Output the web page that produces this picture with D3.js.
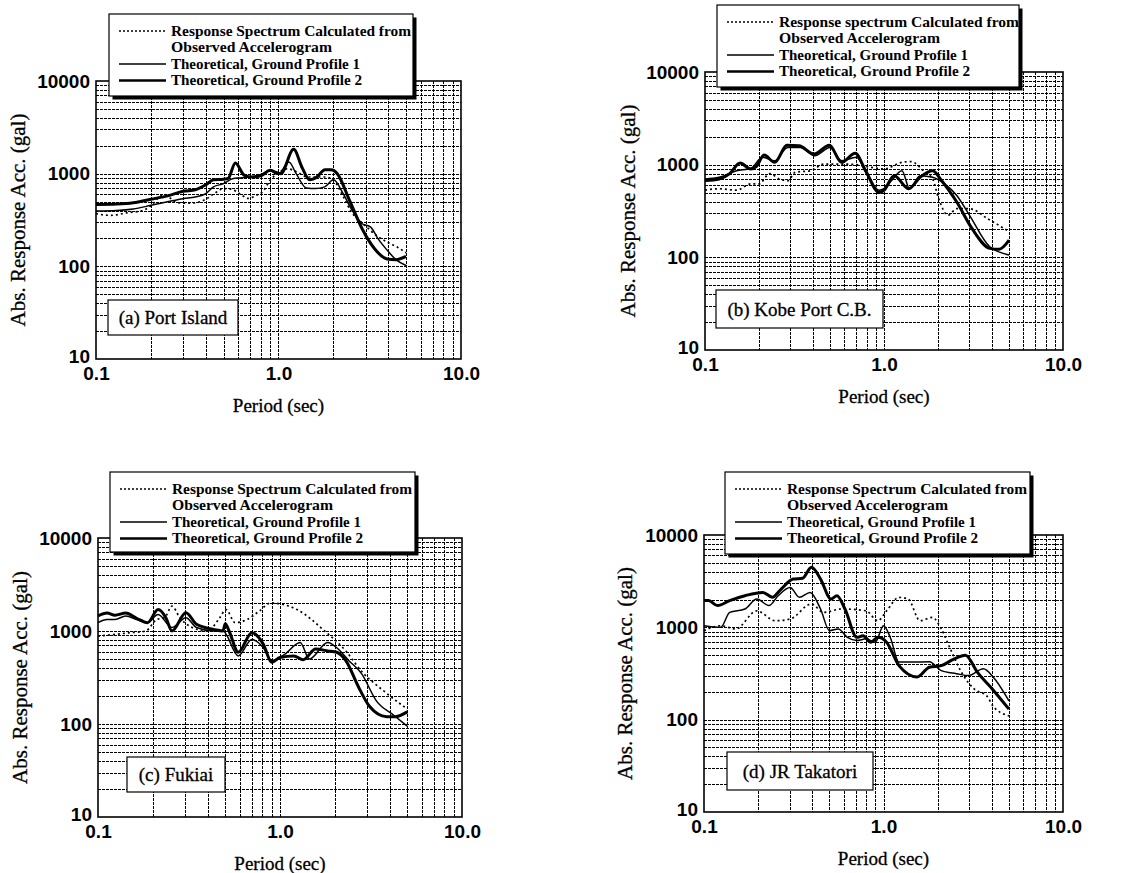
<!DOCTYPE html>
<html><head><meta charset="utf-8">
<script src="https://cdn.jsdelivr.net/npm/d3@7"></script>
<style>body{margin:0;background:#fff}svg{display:block}</style>
</head><body>
<svg id="chart" width="1139" height="873"></svg>
<script>
// ---------- data ----------
const xTickValues = [0.1, 1, 10];
const xTickLabels = ["0.1", "1.0", "10.0"];
const yTickValues = [10, 100, 1000, 10000];
const yTickLabels = ["10", "100", "1000", "10000"];
const xAxisTitle = "Period (sec)";
const yAxisTitle = "Abs. Response Acc. (gal)";
const legendLabels = ["Response Spectrum Calculated from", "Observed Accelerogram", "Theoretical, Ground Profile 1", "Theoretical, Ground Profile 2"];
const legendLabelsKobe = ["Response spectrum Calculated from", "Observed Accelerogram", "Theoretical, Ground Profile 1", "Theoretical, Ground Profile 2"];
const stationNames = ["(a) Port Island", "(b) Kobe Port C.B.", "(c) Fukiai", "(d) JR Takatori"];

// [period (sec), acceleration (gal)]
const portIslandObserved = [[0.1,370],[0.12,355],[0.15,380],[0.18,400],[0.2,450],[0.23,580],[0.25,560],[0.27,500],[0.3,480],[0.35,485],[0.4,530],[0.45,620],[0.5,690],[0.55,680],[0.62,600],[0.68,540],[0.75,580],[0.82,640],[0.9,850],[1.0,1020],[1.12,1130],[1.25,1050],[1.45,920],[1.8,920],[2.0,850],[2.27,560],[2.5,390],[2.9,290],[3.5,210],[4.0,180],[4.5,160],[5.0,140]];
const portIslandProfile1 = [[0.1,395],[0.13,400],[0.16,415],[0.2,455],[0.25,500],[0.3,537],[0.35,560],[0.4,610],[0.44,720],[0.5,780],[0.56,880],[0.62,900],[0.7,920],[0.8,980],[0.9,1085],[0.96,1000],[1.0,990],[1.14,1340],[1.25,1000],[1.42,700],[1.6,690],[1.79,720],[2.0,860],[2.27,600],[2.5,420],[2.86,290],[3.2,265],[3.5,200],[3.93,150],[4.4,118],[5.0,102]];
const portIslandProfile2 = [[0.1,465],[0.13,470],[0.16,485],[0.2,530],[0.25,580],[0.3,645],[0.35,670],[0.4,760],[0.44,860],[0.5,870],[0.53,890],[0.58,1300],[0.65,960],[0.72,920],[0.81,960],[0.9,1090],[0.96,1040],[1.03,1000],[1.21,1830],[1.35,1150],[1.48,860],[1.6,900],[1.8,1100],[1.94,1100],[2.1,1000],[2.45,515],[2.9,245],[3.36,155],[3.93,120],[4.4,118],[5.0,128]];

const kobePortObserved = [[0.1,530],[0.12,550],[0.15,530],[0.18,620],[0.2,620],[0.23,800],[0.26,700],[0.29,670],[0.32,830],[0.39,860],[0.46,1015],[0.58,1015],[0.7,1000],[0.85,935],[1.0,900],[1.26,1060],[1.42,1080],[1.66,860],[1.87,700],[2.02,430],[2.28,285],[2.55,335],[3.0,335],[3.8,260],[5.0,190]];
const kobePortProfile1 = [[0.1,700],[0.12,730],[0.15,860],[0.18,910],[0.21,1200],[0.245,1100],[0.29,1530],[0.34,1530],[0.41,1250],[0.5,1530],[0.58,1100],[0.7,1200],[0.81,760],[0.94,530],[1.0,550],[1.1,670],[1.26,860],[1.39,550],[1.59,760],[1.87,730],[2.18,620],[2.55,465],[3.0,285],[3.9,130],[5.0,106]];
const kobePortProfile2 = [[0.1,673],[0.12,700],[0.137,795],[0.157,1040],[0.18,900],[0.194,960],[0.214,1270],[0.245,1060],[0.287,1620],[0.335,1600],[0.407,1300],[0.495,1620],[0.58,1060],[0.69,1330],[0.79,860],[0.94,500],[1.0,530],[1.14,760],[1.37,550],[1.59,730],[1.87,860],[2.1,670],[2.55,395],[3.1,205],[3.9,125],[4.4,122],[5.0,153]];

const fukiaiObserved = [[0.1,880],[0.124,920],[0.151,960],[0.183,1000],[0.21,1330],[0.232,1390],[0.255,1850],[0.281,1400],[0.329,1090],[0.4,1000],[0.467,1390],[0.505,1700],[0.567,1230],[0.66,1330],[0.77,1640],[0.89,2000],[1.24,1700],[1.76,1000],[2.3,610],[2.8,370],[3.7,228],[5.0,145]];
const fukiaiProfile1 = [[0.1,1230],[0.112,1330],[0.124,1330],[0.142,1450],[0.163,1330],[0.187,1230],[0.214,1500],[0.255,1090],[0.304,1390],[0.348,1090],[0.43,1000],[0.486,1000],[0.59,540],[0.7,810],[0.81,660],[0.9,480],[1.06,560],[1.29,750],[1.45,500],[1.83,750],[2.05,660],[2.39,480],[2.8,350],[3.4,175],[4.2,125],[5.0,95]];
const fukiaiProfile2 = [[0.1,1450],[0.112,1560],[0.124,1480],[0.142,1560],[0.163,1370],[0.187,1230],[0.214,1700],[0.236,1390],[0.255,1000],[0.304,1570],[0.348,1180],[0.43,1040],[0.486,1000],[0.5,1200],[0.525,1000],[0.59,590],[0.7,960],[0.81,720],[0.9,460],[1.0,520],[1.19,540],[1.34,490],[1.57,640],[1.83,610],[2.05,590],[2.3,480],[2.7,250],[3.1,155],[3.85,120],[4.3,120],[5.0,135]];

const takatoriObserved = [[0.1,920],[0.124,1040],[0.15,960],[0.197,1510],[0.249,1180],[0.302,1230],[0.397,1790],[0.463,1450],[0.585,1580],[0.8,1510],[0.93,1180],[1.04,1510],[1.22,2110],[1.37,2030],[1.6,1180],[1.87,1280],[2.1,960],[2.36,580],[2.76,310],[3.2,215],[3.77,180],[4.08,140],[5.0,110]];
const takatoriProfile1 = [[0.1,1040],[0.124,1000],[0.139,1450],[0.169,1580],[0.197,2030],[0.23,1720],[0.259,2200],[0.302,2700],[0.34,2120],[0.39,2390],[0.446,1580],[0.5,920],[0.56,960],[0.63,780],[0.71,720],[0.8,750],[0.9,690],[1.0,1040],[1.09,780],[1.22,420],[1.49,420],[1.8,425],[2.1,340],[2.55,315],[2.98,300],[3.6,355],[4.08,290],[5.0,160]];
const takatoriProfile2 = [[0.1,1950],[0.106,1950],[0.119,1720],[0.139,1950],[0.169,2200],[0.213,2390],[0.24,2120],[0.269,2600],[0.314,3330],[0.354,3400],[0.397,4470],[0.446,3330],[0.51,2030],[0.55,2200],[0.61,1580],[0.71,780],[0.77,810],[0.85,690],[0.93,780],[1.04,690],[1.22,385],[1.54,290],[1.8,370],[2.1,385],[2.45,450],[2.86,500],[3.34,325],[4.08,210],[5.0,130]];

// ---------- layout ----------
const panels = [
  {name: stationNames[0], legend: legendLabels, obs: portIslandObserved, p1: portIslandProfile1, p2: portIslandProfile2,
   x0: 96, x1: 461, y0: 81, y1: 359, lg: [109, 14, 304, 82], lb: [108, 300, 130, 35], yTitleX: 18},
  {name: stationNames[1], legend: legendLabelsKobe, obs: kobePortObserved, p1: kobePortProfile1, p2: kobePortProfile2,
   x0: 705, x1: 1063, y0: 72, y1: 350, lg: [717, 5, 302, 82], lb: [716, 290, 167, 38], yTitleX: 628},
  {name: stationNames[2], legend: legendLabels, obs: fukiaiObserved, p1: fukiaiProfile1, p2: fukiaiProfile2,
   x0: 98, x1: 462, y0: 538, y1: 817, lg: [110, 472, 305, 80], lb: [127, 757, 98, 35], yTitleX: 20},
  {name: stationNames[3], legend: legendLabels, obs: takatoriObserved, p1: takatoriProfile1, p2: takatoriProfile2,
   x0: 704, x1: 1063, y0: 535, y1: 812, lg: [725, 472, 305, 82], lb: [727, 752, 146, 38], yTitleX: 625}
];
const legendTextWidths = [240, 161, 189, 191];

const SERIF = "'Liberation Serif','Times New Roman',serif";
const SANS = "'Liberation Sans',Arial,Helvetica,sans-serif";
const svg = d3.select("#chart");
svg.append("rect").attr("width", 1139).attr("height", 873).attr("fill", "#fff");

const xMinor = [];
for (let d = 0.1; d < 10; d *= 10) for (let k = 2; k <= 9; k++) xMinor.push(+(k * d).toFixed(3));
xMinor.push(1);
const yMinor = [];
for (let d = 10; d < 10000; d *= 10) for (let k = 2; k <= 9; k++) yMinor.push(k * d);
yMinor.push(100, 1000);

panels.forEach(p => {
  const g = svg.append("g");
  const x = d3.scaleLog().domain([0.1, 10]).range([p.x0, p.x1]);
  const y = d3.scaleLog().domain([10, 10000]).range([p.y1, p.y0]);
  const snap = v => Math.round(v) + 0.5;

  // grid
  const grid = g.append("g").attr("stroke", "#000").attr("stroke-width", 1)
    .attr("stroke-dasharray", "3,1").attr("shape-rendering", "crispEdges");
  grid.selectAll("line.v").data(xMinor).join("line")
    .attr("x1", d => snap(x(d))).attr("x2", d => snap(x(d))).attr("y1", p.y0).attr("y2", p.y1);
  grid.selectAll("line.h").data(yMinor).join("line")
    .attr("x1", p.x0).attr("x2", p.x1).attr("y1", d => snap(y(d))).attr("y2", d => snap(y(d)));

  // frame
  g.append("rect").attr("x", p.x0).attr("y", p.y0).attr("width", p.x1 - p.x0).attr("height", p.y1 - p.y0)
    .attr("fill", "none").attr("stroke", "#000").attr("stroke-width", 1.6);

  // curves
  const line = d3.line().x(d => x(d[0])).y(d => y(d[1])).curve(d3.curveMonotoneX);
  g.append("path").datum(p.obs).attr("d", line).attr("fill", "none").attr("stroke", "#000")
    .attr("stroke-width", 1.7).attr("stroke-dasharray", "2,3");
  g.append("path").datum(p.p1).attr("d", line).attr("fill", "none").attr("stroke", "#000")
    .attr("stroke-width", 1.5);
  g.append("path").datum(p.p2).attr("d", line).attr("fill", "none").attr("stroke", "#000")
    .attr("stroke-width", 3).attr("stroke-linejoin", "round");

  // axes (labels only)
  const xAx = d3.axisBottom(x).tickValues(xTickValues).tickSize(0).tickPadding(8)
    .tickFormat((d, i) => xTickLabels[i]);
  const xg = g.append("g").attr("transform", `translate(0,${p.y1})`).call(xAx);
  xg.select(".domain").remove();
  xg.selectAll("text").attr("font-family", SANS).attr("font-size", 19).attr("font-weight", "bold").attr("fill", "#000");

  const yAx = d3.axisLeft(y).tickValues(yTickValues).tickSize(0).tickPadding(6)
    .tickFormat((d, i) => yTickLabels[i]);
  const yg = g.append("g").attr("transform", `translate(${p.x0},0)`).call(yAx);
  yg.select(".domain").remove();
  yg.selectAll("text").attr("font-family", SANS).attr("font-size", 19).attr("font-weight", "bold").attr("fill", "#000")
    .attr("dy", d => d === 10 ? "0.2em" : "0.32em");

  // axis titles
  g.append("text").attr("x", (p.x0 + p.x1) / 2).attr("y", p.y1 + 46).attr("dy", "0.35em")
    .attr("text-anchor", "middle").attr("font-family", SERIF).attr("font-size", 19)
    .attr("stroke", "#000").attr("stroke-width", 0.3).text(xAxisTitle);
  g.append("text").attr("transform", `translate(${p.yTitleX},${(p.y0 + p.y1) / 2}) rotate(-90)`)
    .attr("dy", "0.35em").attr("text-anchor", "middle").attr("font-family", SERIF).attr("font-size", 21)
    .attr("stroke", "#000").attr("stroke-width", 0.3).text(yAxisTitle);

  // legend box with shadow
  const [lx, ly, lw, lh] = p.lg;
  g.append("rect").attr("x", lx + 3.5).attr("y", ly + 3.5).attr("width", lw).attr("height", lh).attr("fill", "#000");
  g.append("rect").attr("x", lx).attr("y", ly).attr("width", lw).attr("height", lh)
    .attr("fill", "#fff").attr("stroke", "#000").attr("stroke-width", 1.2);
  const rows = [17, 33.5, 50, 66.5];
  const styles = [
    {w: 1.3, dash: "2,2"}, null, {w: 1.6, dash: null}, {w: 2.6, dash: null}
  ];
  p.legend.forEach((t, i) => {
    g.append("text").attr("x", lx + 62).attr("y", ly + rows[i]).attr("dy", "0.33em")
      .attr("font-family", SERIF).attr("font-size", 15).attr("font-weight", "bold").attr("fill", "#000")
      .attr("textLength", legendTextWidths[i]).attr("lengthAdjust", "spacingAndGlyphs").text(t);
    const s = styles[i];
    if (s) {
      const ln = g.append("line").attr("x1", lx + 10).attr("x2", lx + 57)
        .attr("y1", ly + rows[i]).attr("y2", ly + rows[i]).attr("stroke", "#000").attr("stroke-width", s.w);
      if (s.dash) ln.attr("stroke-dasharray", s.dash);
    }
  });

  // station label box
  const [bx, by, bw, bh] = p.lb;
  g.append("rect").attr("x", bx).attr("y", by).attr("width", bw).attr("height", bh)
    .attr("fill", "#fff").attr("stroke", "#000").attr("stroke-width", 1.2);
  g.append("text").attr("x", bx + bw / 2).attr("y", by + bh / 2).attr("dy", "0.35em")
    .attr("text-anchor", "middle").attr("font-family", SERIF).attr("font-size", 19)
    .attr("stroke", "#000").attr("stroke-width", 0.3).text(p.name);
});
</script>
</body></html>
